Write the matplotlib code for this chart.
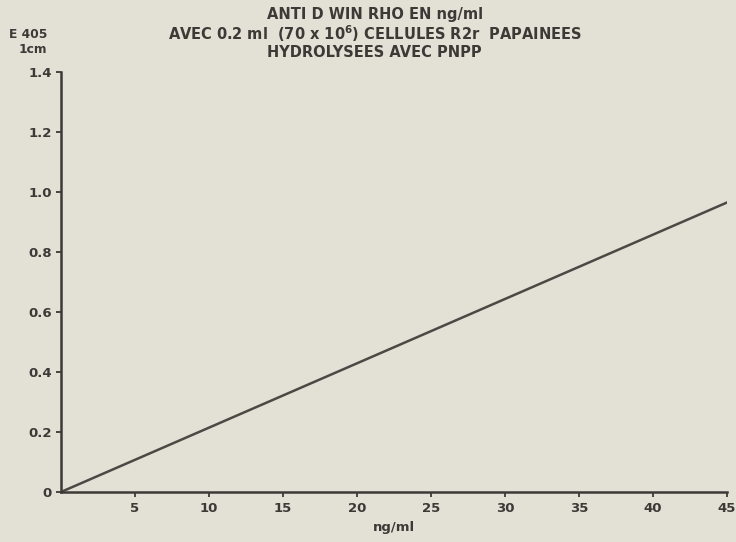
import matplotlib.pyplot as plt

# values
conc = [0, 45]          # ng/ml
e405 = [0, 0.965]       # extinction 405 nm, 1 cm
xticks = [5, 10, 15, 20, 25, 30, 35, 40, 45]
yticks = [0, 0.2, 0.4, 0.6, 0.8, 1.0, 1.2, 1.4]
ylabels = ['0', '0.2', '0.4', '0.6', '0.8', '1.0', '1.2', '1.4']

bg = '#e3e1d6'
ink = '#3b3a36'
plt.rcParams['font.family'] = ['DejaVu Sans']
plt.rcParams['font.weight'] = 'bold'

fig = plt.figure(figsize=(7.36, 5.42), dpi=100, facecolor=bg)
ax = fig.add_axes([0.0829, 0.0923, 0.905, 0.775], facecolor=bg)

ax.plot(conc, e405, color='#4a4944', lw=1.8)

ax.set_xlim(0, 45)
ax.set_ylim(0, 1.4)
ax.set_xticks(xticks)
ax.set_yticks(yticks)
ax.set_yticklabels(ylabels)
for s in ['top', 'right']:
    ax.spines[s].set_visible(False)
for s in ['left', 'bottom']:
    ax.spines[s].set_color(ink)
    ax.spines[s].set_linewidth(1.8)
ax.tick_params(axis='x', direction='out', length=3.5, width=1.3, color=ink,
               labelcolor=ink, labelsize=9.5, pad=4)
ax.tick_params(axis='y', direction='out', length=3.5, width=1.3, color=ink,
               labelcolor=ink, labelsize=9.5, pad=3)
ax.set_xlabel('ng/ml', color=ink, fontsize=9.5, fontweight='bold', labelpad=4)

fig.text(0.509, 0.973, 'ANTI D WIN RHO EN ng/ml', ha='center', va='center',
         color=ink, fontsize=10.5, fontweight='bold')
fig.text(0.509, 0.938, 'AVEC 0.2 ml  (70 x 10$^{\\mathbf{6}}$) CELLULES R2r  PAPAINEES',
         ha='center', va='center', color=ink, fontsize=10.5, fontweight='bold')
fig.text(0.509, 0.903, 'HYDROLYSEES AVEC PNPP', ha='center', va='center',
         color=ink, fontsize=10.5, fontweight='bold')
fig.text(0.064, 0.937, 'E 405', ha='right', va='center', color=ink,
         fontsize=8.8, fontweight='bold')
fig.text(0.064, 0.908, '1cm', ha='right', va='center', color=ink,
         fontsize=8.8, fontweight='bold')

plt.savefig('out.png', dpi=100, facecolor=bg)
